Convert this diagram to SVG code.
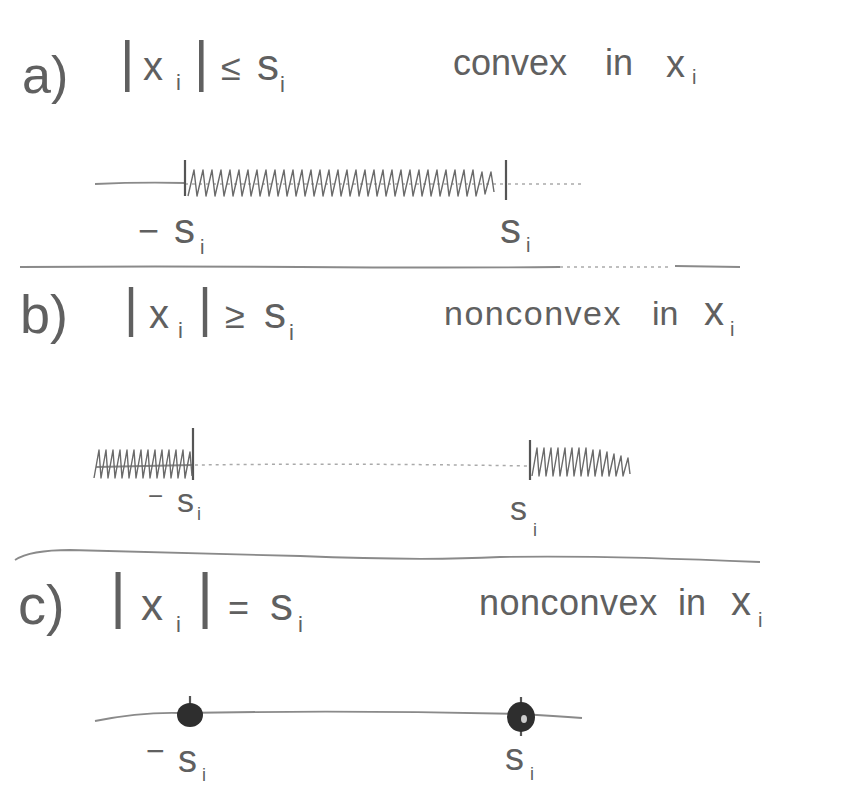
<svg xmlns="http://www.w3.org/2000/svg" width="866" height="796" viewBox="0 0 866 796">
<style>
.t{font-family:"Liberation Sans",sans-serif;fill:#606060}
.ax{stroke:#8a8a8a;stroke-width:1.8;fill:none}
.axd{stroke:#aaa;stroke-width:1.5;fill:none;stroke-dasharray:3 4}
.sep{stroke:#8a8a8a;stroke-width:1.8;fill:none}
.tick{stroke:#555;stroke-width:2.2;fill:none}
.hatch{stroke:#6a6a6a;stroke-width:1.4;fill:none;stroke-linejoin:round}
.dot{fill:#2e2e2e}
</style>
<rect width="866" height="796" fill="#fff"/>

<g id="partA">
  <text class="t" x="22" y="93" font-size="52">a)</text>
  <text class="t"><tspan x="120" y="80" font-size="56">|</tspan><tspan x="143" y="80" font-size="40">x</tspan><tspan x="176" y="90" font-size="22">i</tspan><tspan x="194" y="80" font-size="56">|</tspan><tspan x="221" y="80" font-size="36">≤</tspan><tspan x="257" y="80" font-size="44">s</tspan><tspan x="280" y="92" font-size="22">i</tspan></text>
  <text class="t"><tspan x="453" y="75" font-size="36">convex</tspan><tspan x="605" y="75" font-size="36">in</tspan><tspan x="666" y="77" font-size="38">x</tspan><tspan x="692" y="84" font-size="20">i</tspan></text>
  <path class="ax" d="M95 184 Q140 182 185 183"/>
  <path class="axd" d="M185 184 L506 184 M508 184 L585 184"/>
  <path class="tick" d="M185 160 L185 196 M506 160 L506 200"/>
  <path class="hatch" d="M188 196 l6 -26 l3 26 l6 -26 l3 26 l6 -26 l3 26 l6 -26 l3 26 l6 -26 l3 26 l6 -26 l3 26 l6 -26 l3 26 l6 -26 l3 26 l6 -26 l3 26 l6 -26 l3 26 l6 -26 l3 26 l6 -26 l3 26 l6 -26 l3 26 l6 -26 l3 26 l6 -26 l3 26 l6 -26 l3 26 l6 -26 l3 26 l6 -26 l3 26 l6 -26 l3 26 l6 -26 l3 26 l6 -26 l3 26 l6 -26 l3 26 l6 -26 l3 26 l6 -26 l3 26 l6 -26 l3 26 l6 -26 l3 26 l6 -26 l3 26 l6 -26 l3 26 l6 -26 l3 26 l6 -26 l3 26 l6 -26 l3 26 l6 -26 l3 26 l6 -24 l3 22 l6 -22 l3 20"/>
  <text class="t"><tspan x="138" y="243" font-size="36">−</tspan><tspan x="174" y="243" font-size="42">s</tspan><tspan x="200" y="254" font-size="20">i</tspan></text>
  <text class="t"><tspan x="500" y="243" font-size="42">s</tspan><tspan x="526" y="252" font-size="20">i</tspan></text>
</g>

<path class="sep" d="M20 267 Q150 266 300 267 Q450 268 560 267"/>
<path class="axd" d="M560 267 L672 267"/>
<path class="sep" d="M675 266 L740 267"/>

<g id="partB">
  <text class="t" x="20" y="333" font-size="54">b)</text>
  <text class="t"><tspan x="124" y="326" font-size="54">|</tspan><tspan x="149" y="328" font-size="40">x</tspan><tspan x="178" y="338" font-size="22">i</tspan><tspan x="198" y="326" font-size="54">|</tspan><tspan x="225" y="328" font-size="36">≥</tspan><tspan x="264" y="328" font-size="44">s</tspan><tspan x="289" y="340" font-size="22">i</tspan></text>
  <text class="t"><tspan x="444" y="325" font-size="34" letter-spacing="1.5">nonconvex</tspan><tspan x="652" y="325" font-size="34">in</tspan><tspan x="704" y="325" font-size="40">x</tspan><tspan x="730" y="336" font-size="20">i</tspan></text>
  <path class="ax" d="M96 467 L193 465"/>
  <path class="axd" d="M195 465 Q350 463 530 466"/>
  <path class="tick" d="M193 428 L193 480 M530 440 L530 480"/>
  <path class="hatch" d="M94 478 l5 -28 l2 28 l5 -28 l2 28 l5 -28 l2 28 l5 -28 l2 28 l5 -28 l2 28 l5 -28 l2 28 l5 -28 l2 28 l5 -28 l2 28 l5 -28 l2 28 l5 -28 l2 28 l5 -28 l2 28 l5 -28 l2 28 l5 -28 l2 28 l5 -26 l2 24"/>
  <path class="hatch" d="M532 476 l5 -28 l2 28 l5 -28 l2 28 l5 -28 l2 28 l5 -28 l2 28 l5 -28 l2 28 l5 -28 l2 28 l5 -28 l2 28 l5 -28 l2 28 l5 -26 l2 26 l5 -26 l2 26 l5 -24 l2 24 l5 -22 l2 22 l5 -20 l2 20 l5 -18 l2 16"/>
  <text class="t"><tspan x="148" y="505" font-size="26">−</tspan><tspan x="177" y="512" font-size="34">s</tspan><tspan x="197" y="520" font-size="18">i</tspan></text>
  <text class="t"><tspan x="510" y="520" font-size="34">s</tspan><tspan x="533" y="536" font-size="18">i</tspan></text>
</g>

<path class="sep" d="M15 560 Q30 550 70 550 Q200 553 300 556 Q420 561 500 557 Q600 555 760 562"/>

<g id="partC">
  <text class="t" x="18" y="624" font-size="56">c)</text>
  <text class="t"><tspan x="110" y="616" font-size="62">|</tspan><tspan x="141" y="620" font-size="44">x</tspan><tspan x="176" y="632" font-size="22">i</tspan><tspan x="197" y="616" font-size="62">|</tspan><tspan x="228" y="620" font-size="36">=</tspan><tspan x="270" y="620" font-size="46">s</tspan><tspan x="298" y="632" font-size="22">i</tspan></text>
  <text class="t"><tspan x="479" y="615" font-size="36" letter-spacing="0.5">nonconvex</tspan><tspan x="678" y="615" font-size="36">in</tspan><tspan x="731" y="615" font-size="40">x</tspan><tspan x="758" y="627" font-size="20">i</tspan></text>
  <path class="ax" d="M95 721 Q140 712 180 713 Q350 710 520 714 Q555 716 582 718"/>
  <path class="tick" d="M190 696 L190 705 M521 697 L521 736"/>
  <ellipse class="dot" cx="190" cy="715" rx="13" ry="12"/>
  <ellipse class="dot" cx="521" cy="717" rx="14" ry="15"/>
  <ellipse cx="524" cy="719" rx="3" ry="4" fill="#ccc"/>
  <text class="t"><tspan x="146" y="762" font-size="32">−</tspan><tspan x="178" y="772" font-size="38">s</tspan><tspan x="202" y="781" font-size="18">i</tspan></text>
  <text class="t"><tspan x="505" y="770" font-size="38">s</tspan><tspan x="530" y="780" font-size="18">i</tspan></text>
</g>
</svg>
